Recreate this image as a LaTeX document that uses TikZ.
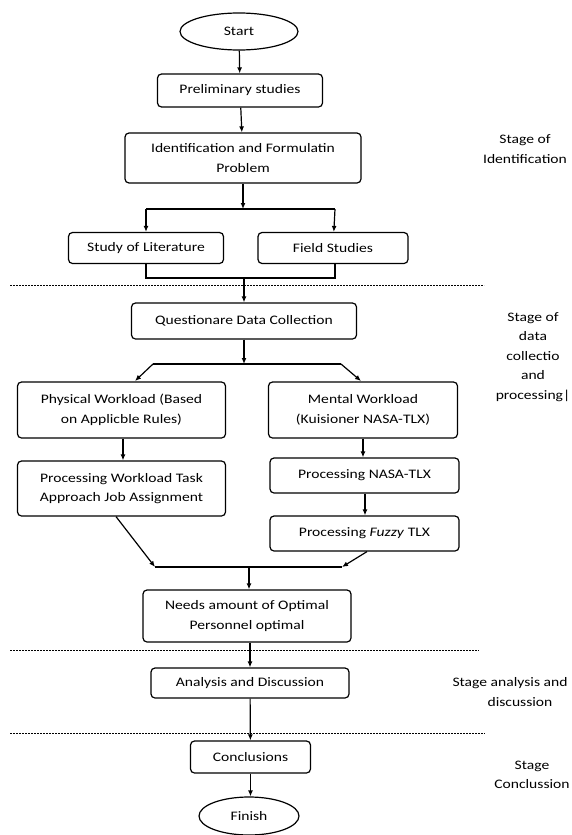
\documentclass[tikz,border=0pt]{standalone}
\usepackage{fontspec}
\setmainfont[FakeStretch=1.2]{Carlito}
\usetikzlibrary{arrows.meta,shapes.geometric}
\begin{document}
\begin{tikzpicture}[x=1pt,y=-1pt,font=\fontsize{13}{19.5}\selectfont]
\tikzstyle{box}=[rectangle, rounded corners=4pt, draw, line width=1.2pt, align=center, inner sep=1pt]
\tikzstyle{oval}=[ellipse, draw, line width=1.2pt, inner sep=0pt]
\tikzstyle{arr}=[-{Latex[length=6pt,width=5pt]}, line width=1.2pt]
\tikzstyle{ln}=[line width=1.2pt]
\tikzstyle{sep}=[line width=0.8pt, dash pattern=on 2pt off 1pt]
\tikzstyle{lab}=[align=center]
\useasboundingbox (0,0) rectangle (571,835);
%identification
\node[oval, minimum width=118pt, minimum height=37pt] (start) at (239,31.5) {Start};
\node[box, minimum width=165pt, minimum height=33pt] (prelim) at (240,90.5) {Preliminary studies};
\node[box, minimum width=236pt, minimum height=50pt] (ident) at (243,158) {Identification and Formulatin\\Problem};
\node[box, minimum width=155pt, minimum height=31pt] (lit) at (146,248) {Study of Literature};
\node[box, minimum width=150pt, minimum height=31pt] (field) at (333,248) {Field Studies};
\coordinate (b1) at (243,209);
\coordinate (b1l) at (146,209);
\coordinate (b1r) at (335,209);
\coordinate (m1l) at (146,278);
\coordinate (m1r) at (335,278);
\coordinate (m1) at (244,278);
\draw[arr] (start) -- (prelim);
\draw[arr] (prelim) -- (ident);
\draw[arr] (ident) -- (b1);
\draw[ln] (b1l) -- (b1r);
\draw[arr] (b1l) -- (lit);
\draw[arr] (b1r) -- (field);
\draw[ln] (lit.south) -- (m1l) -- (m1r) -- (field.south -| m1r);
\draw[sep] (10,285) -- (484,285);
%data collection
\node[box, minimum width=225pt, minimum height=36pt] (quest) at (244,321) {Questionare Data Collection};
\node[box, minimum width=208pt, minimum height=56pt] (phys) at (121.5,410) {Physical Workload (Based\\on Applicble Rules)};
\node[box, minimum width=189pt, minimum height=56pt] (ment) at (363,410) {Mental Workload\\(Kuisioner NASA-TLX)};
\node[box, minimum width=208pt, minimum height=55pt] (proc) at (121.5,488.5) {Processing Workload Task\\Approach Job Assignment};
\node[box, minimum width=189pt, minimum height=35pt] (nasa) at (364.5,475.5) {Processing NASA-TLX};
\node[box, minimum width=189pt, minimum height=35pt] (fuzzy) at (364.5,533.5) {Processing \textit{Fuzzy} TLX};
\coordinate (b2) at (244,364);
\coordinate (b2l) at (153,364);
\coordinate (b2r) at (341,364);
\coordinate (m2l) at (155,567);
\coordinate (m2r) at (342,567);
\coordinate (m2) at (249,567);
\draw[arr] (m1) -- (quest);
\draw[arr] (quest) -- (b2);
\draw[ln] (b2l) -- (b2r);
\draw[arr] (b2l) -- (135,381);
\draw[arr] (b2r) -- (361,381);
\draw[arr] (phys.south -| 123,0) -- (proc.north -| 123,0);
\draw[arr] (ment.south -| 363,0) -- (nasa.north -| 363,0);
\draw[arr] (nasa.south -| 365,0) -- (fuzzy.north -| 365,0);
\draw[arr] (proc.south -| 116,0) -- (m2l);
\draw[arr] (fuzzy.south -| 367,0) -- (m2r);
\draw[ln] (m2l) -- (m2r);
%result
\node[box, minimum width=208pt, minimum height=52pt] (needs) at (247,616) {Needs amount of Optimal\\Personnel optimal};
\draw[arr] (m2) -- (needs.north -| m2);
\draw[sep] (10,650) -- (479,650);
\node[box, minimum width=198pt, minimum height=30pt] (anal) at (250,683) {Analysis and Discussion};
\draw[arr] (needs.south -| anal) -- (anal);
\draw[sep] (10,733) -- (485,733);
\node[box, minimum width=120pt, minimum height=32pt] (concl) at (250.5,757) {Conclusions};
\node[oval, minimum width=100pt, minimum height=38pt] (finish) at (249,816) {Finish};
\draw[arr] (anal) -- (concl);
\draw[arr] (concl) -- (finish.north -| concl);
%stages
\node[lab] (s1) at (525,149) {Stage of\\Identification};
\node[lab] (s2) at (533,357) {Stage of\\data\\collectio\\and\\processing|};
\node[lab] (s3) at (510,692) {Stage analysis and\\\hspace*{20pt}discussion};
\node[lab] (s4) at (532,775) {Stage\\Conclussion};
\end{tikzpicture}
\end{document}
